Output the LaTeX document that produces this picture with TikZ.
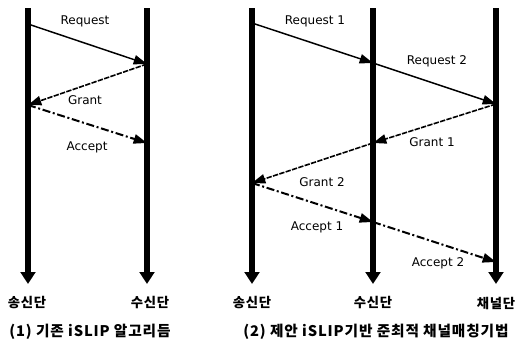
\documentclass[tikz,border=0pt]{standalone}
\usepackage{fontspec}
\setmainfont{DejaVu Sans}
\newfontfamily\korfont[LetterSpace=6]{Noto Sans CJK KR}
\usetikzlibrary{arrows.meta}

\tikzset{
  timebar/.style={line width=4pt,-{Triangle[length=9pt,width=11pt]}},
  reqline/.style={line width=1.1pt,-{Triangle[length=10pt,width=7pt]}},
  grantline/.style={line width=1.2pt,dash pattern={on 4pt off 1pt},-{Triangle[length=10pt,width=7pt]}},
  acceptline/.style={line width=1.5pt,dash pattern={on 6pt off 2pt on 1.5pt off 2pt},-{Triangle[length=10pt,width=7pt]}},
  msglabel/.style={font=\fontsize{9}{10}\selectfont},
  endlabel/.style={font=\korfont\bfseries\fontsize{10}{12}\selectfont},
  captlabel/.style={font=\korfont\bfseries\fontsize{11}{13}\selectfont}
}

\begin{document}
\begin{tikzpicture}[x=0.75pt,y=0.75pt,yscale=-1,xscale=1]
\useasboundingbox (0,0) rectangle (520,343);

% Panel (1): end points of the time bars
\coordinate (sndA top) at (28,8);
\coordinate (sndA bot) at (28,284);
\coordinate (rcvA top) at (147,8);
\coordinate (rcvA bot) at (147,284);
% Panel (1): message points
\coordinate (a1) at (28,24);
\coordinate (a2) at (147,64);
\coordinate (a3) at (28,105);
\coordinate (a4) at (147,143);

% Panel (2): end points of the time bars
\coordinate (sndB top) at (252,8);
\coordinate (sndB bot) at (252,284);
\coordinate (rcvB top) at (373,8);
\coordinate (rcvB bot) at (373,284);
\coordinate (chB top) at (496,8);
\coordinate (chB bot) at (496,284);
% Panel (2): message points
\coordinate (b1) at (252,23);
\coordinate (b2) at (373,63);
\coordinate (b3) at (496,104);
\coordinate (b4) at (373,143);
\coordinate (b5) at (252,183);
\coordinate (b6) at (373,222);
\coordinate (b7) at (496,262);

% Time bars
\draw [timebar] (sndA top) -- (sndA bot) ;
\draw [timebar] (rcvA top) -- (rcvA bot) ;
\draw [timebar] (sndB top) -- (sndB bot) ;
\draw [timebar] (rcvB top) -- (rcvB bot) ;
\draw [timebar] (chB top) -- (chB bot) ;

% Straight Lines: panel (1)
\draw [reqline] (a1) -- (a2) ;
\draw [grantline] (a2) -- (a3) ;
\draw [acceptline] (a3) -- (a4) ;

% Straight Lines: panel (2)
\draw [reqline] (b1) -- (b2) ;
\draw [reqline] (b2) -- (b3) ;
\draw [grantline] (b3) -- (b4) ;
\draw [grantline] (b4) -- (b5) ;
\draw [acceptline] (b5) -- (b6) ;
\draw [acceptline] (b6) -- (b7) ;

% Message labels
\node [msglabel] (reqA) at (85,21) {Request};
\node [msglabel] (grantA) at (85,100) {Grant};
\node [msglabel] (acceptA) at (87,147) {Accept};
\node [msglabel] (req1) at (315,21) {Request 1};
\node [msglabel] (req2) at (437,61) {Request 2};
\node [msglabel] (grant1) at (432,142) {Grant 1};
\node [msglabel] (grant2) at (322,182) {Grant 2};
\node [msglabel] (accept1) at (317,227) {Accept 1};
\node [msglabel] (accept2) at (438,263) {Accept 2};

% End labels
\node [endlabel] (sndA) at (27,303) {송신단};
\node [endlabel] (rcvA) at (150,303) {수신단};
\node [endlabel] (sndB) at (252,303) {송신단};
\node [endlabel] (rcvB) at (373,303) {수신단};
\node [endlabel] (chB) at (496,303) {채널단};

% Captions
\node [captlabel] (captA) at (90,332) {(1) 기존 iSLIP 알고리듬};
\node [captlabel] (captB) at (376,332) {(2) 제안 iSLIP기반 준최적 채널매칭기법};

\end{tikzpicture}
\end{document}
